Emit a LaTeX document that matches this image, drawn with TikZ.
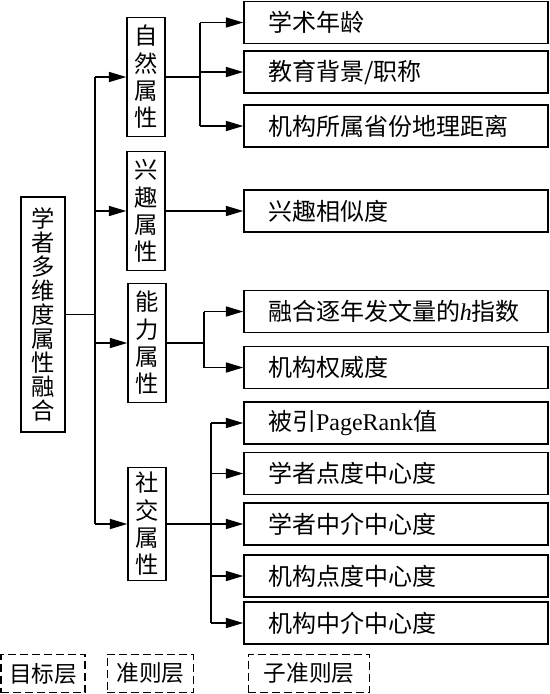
\documentclass[tikz,border=0pt]{standalone}
\usepackage{fontspec}
\setmainfont{Liberation Serif}
\newfontfamily\cjk{Noto Sans CJK SC}
\usetikzlibrary{arrows.meta}
\begin{document}
\begin{tikzpicture}[x=0.75pt,y=-0.75pt,
  every node/.style={inner sep=0pt},
  goalbox/.style={draw,line width=1.1pt,minimum width=33pt,minimum height=176pt,align=center,
    font=\cjk\fontsize{17.5}{18}\selectfont},
  critbox/.style={draw,line width=1.1pt,minimum width=28.5pt,minimum height=89pt,align=center,
    font=\cjk\fontsize{17.5}{20.5}\selectfont},
  subbox/.style={draw,line width=1.1pt,minimum height=31.5pt,inner xsep=18pt,text width=192pt,align=left,
    font=\cjk\fontsize{18}{20}\selectfont},
  legbox/.style={draw,line width=0.9pt,dash pattern=on 6pt off 3pt,minimum height=29pt,
    font=\cjk\fontsize{17}{18}\selectfont},
  conn/.style={line width=1.1pt},
  arr/.style={line width=1.1pt,-{Triangle[length=13pt,width=7.5pt]}}]
\useasboundingbox (0,0) rectangle (550,694);
% goal
\node[goalbox] (goal) at (43,314.5) {学\\者\\多\\维\\度\\属\\性\\融\\合};
% criteria
\node[critbox] (c1) at (146,77) {自\\然\\属\\性};
\node[critbox] (c2) at (146,211) {兴\\趣\\属\\性};
\node[critbox] (c3) at (147,343) {能\\力\\属\\性};
\node[critbox,minimum height=85pt] (c4) at (147,524) {社\\交\\属\\性};
% sub-criteria
\node[subbox] (s1) at (396,22.5) {学术年龄};
\node[subbox] (s2) at (396,72) {教育背景/职称};
\node[subbox] (s3) at (396,126) {机构所属省份地理距离};
\node[subbox] (s4) at (396,211) {兴趣相似度};
\node[subbox] (s5) at (396,311.5) {融合逐年发文量的{\rmfamily\itshape h}指数};
\node[subbox] (s6) at (396,367.5) {机构权威度};
\node[subbox] (s7) at (396,423) {被引{\rmfamily PageRank}值};
\node[subbox] (s8) at (396,473.5) {学者点度中心度};
\node[subbox] (s9) at (396,524) {学者中介中心度};
\node[subbox] (s10) at (396,576) {机构点度中心度};
\node[subbox] (s11) at (396,623) {机构中介中心度};
% legend
\node[legbox,minimum width=63pt] (l1) at (43,673.5) {目标层};
\node[legbox,minimum width=65pt] (l2) at (150.5,673.5) {准则层};
\node[legbox,minimum width=91pt] (l3) at (309,673.5) {子准则层};
% trunk
\coordinate (t) at (95,0);
\draw[conn] (goal.east) -- (t |- goal.east);
\draw[conn] (t |- c1.west) -- (t |- c4.west);
\foreach \c in {c1,c2,c3,c4} \draw[arr] (t |- \c.west) -- (\c.west);
% natural
\coordinate (b1) at (200,0);
\draw[conn] (c1.east) -- (b1 |- c1.east);
\draw[conn] (b1 |- s1.west) -- (b1 |- s3.west);
\foreach \s in {s1,s2,s3} \draw[arr] (b1 |- \s.west) -- (\s.west);
% interest
\draw[arr] (c2.east) -- (s4.west);
% ability
\coordinate (b3) at (204,0);
\draw[conn] (c3.east) -- (b3 |- c3.east);
\draw[conn] (b3 |- s5.west) -- (b3 |- s6.west);
\foreach \s in {s5,s6} \draw[arr] (b3 |- \s.west) -- (\s.west);
% social
\coordinate (b4) at (211,0);
\draw[conn] (c4.east) -- (b4 |- c4.east);
\draw[conn] (b4 |- s7.west) -- (b4 |- s11.west);
\foreach \s in {s7,s8,s9,s10,s11} \draw[arr] (b4 |- \s.west) -- (\s.west);
\end{tikzpicture}
\end{document}
